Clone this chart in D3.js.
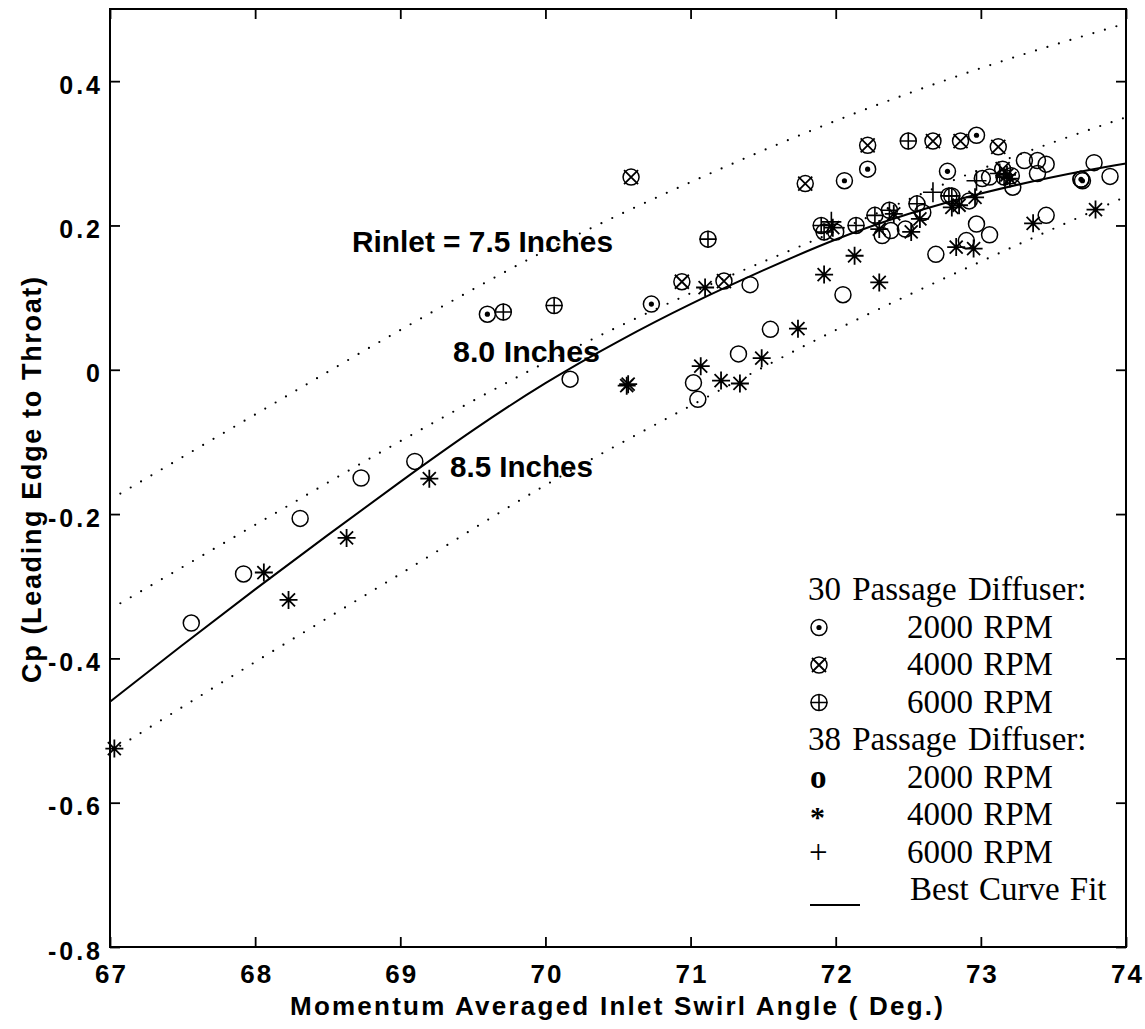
<!DOCTYPE html>
<html><head><meta charset="utf-8">
<script src="https://cdn.jsdelivr.net/npm/d3@7/dist/d3.min.js"></script>
<style>body{margin:0;background:#fff}svg{display:block}</style>
</head><body>
<svg id="chart" width="1145" height="1029"></svg>
<script>
// ---------- data ----------
const xTicks = [67, 68, 69, 70, 71, 72, 73, 74];
const xTickLabels = ["67", "68", "69", "70", "71", "72", "73", "74"];
const yTicks = [-0.8, -0.6, -0.4, -0.2, 0, 0.2, 0.4];
const yTickLabels = ["-0.8", "-0.6", "-0.4", "-0.2", "0", "0.2", "0.4"];

// best curve fit
const fitX = [67, 67.5, 68, 68.5, 69, 69.5, 70, 70.5, 71, 71.5, 72, 72.5, 73, 73.5, 74];
const fitY = [-0.46, -0.381, -0.304, -0.229, -0.155, -0.083, -0.017, 0.040, 0.092, 0.138, 0.182, 0.217, 0.245, 0.268, 0.286];

// Rinlet dotted lines
const rX = [67, 68, 69, 70, 71, 72, 73, 74];
const r75 = [-0.18, -0.062, 0.055, 0.165, 0.26, 0.345, 0.418, 0.48];
const r80 = [-0.332, -0.215, -0.099, 0.01, 0.106, 0.192, 0.278, 0.35];
const r85 = [-0.53, -0.405, -0.283, -0.16, -0.05, 0.055, 0.15, 0.24];

// 30 passage diffuser
const s30_2000 = [[69.60,0.077],[70.73,0.091],[72.06,0.262],[72.22,0.278],[72.97,0.325],[72.77,0.275],[73.69,0.264],[73.70,0.262]];
const s30_4000 = [[70.59,0.267],[70.94,0.122],[71.23,0.123],[71.79,0.258],[72.22,0.311],[72.67,0.317],[72.86,0.317],[73.12,0.309],[73.15,0.278]];
const s30_6000 = [[69.71,0.080],[70.06,0.089],[71.12,0.181],[72.50,0.317],[71.90,0.200],[71.92,0.191],[72.14,0.200],[72.27,0.214],[72.37,0.221],[72.56,0.230],[72.78,0.241],[72.80,0.241],[73.16,0.267]];
// 38 passage diffuser
const s38_2000 = [[67.56,-0.351],[67.92,-0.283],[68.31,-0.206],[68.73,-0.150],[69.10,-0.127],[70.17,-0.013],[71.02,-0.018],[71.05,-0.041],[71.33,0.022],[71.55,0.056],[71.41,0.118],[72.05,0.104],[72.00,0.191],[72.32,0.186],[72.38,0.193],[72.48,0.195],[72.60,0.218],[72.69,0.160],[72.90,0.179],[72.97,0.202],[73.06,0.187],[72.92,0.234],[73.01,0.265],[73.06,0.267],[73.21,0.269],[73.22,0.253],[73.30,0.290],[73.39,0.290],[73.45,0.285],[73.39,0.272],[73.45,0.214],[73.78,0.287],[73.89,0.268],[73.69,0.264]];
const s38_4000 = [[67.03,-0.525],[68.06,-0.281],[68.23,-0.319],[68.63,-0.233],[69.20,-0.151],[70.56,-0.022],[70.57,-0.020],[71.07,0.005],[71.21,-0.015],[71.34,-0.019],[71.49,0.016],[71.74,0.057],[71.10,0.114],[71.92,0.132],[72.13,0.158],[72.30,0.121],[71.98,0.197],[72.30,0.195],[72.40,0.216],[72.52,0.191],[72.58,0.209],[72.80,0.225],[72.85,0.228],[72.96,0.239],[73.20,0.265],[73.18,0.270],[72.83,0.170],[72.95,0.168],[73.36,0.203],[73.79,0.222]];
const s38_6000 = [[72.67,0.246],[72.97,0.262],[73.13,0.272],[71.97,0.205]];

const legendLabels = ["30 Passage Diffuser:", "2000 RPM", "4000 RPM", "6000 RPM", "38 Passage Diffuser:", "2000 RPM", "4000 RPM", "6000 RPM", "Best Curve Fit"];
const annotations = ["Rinlet = 7.5 Inches", "8.0 Inches", "8.5 Inches"];

// ---------- drawing ----------
const svg = d3.select("#chart");
const x = d3.scaleLinear().domain([67, 74]).range([110, 1126]);
const y = d3.scaleLinear().domain([-0.8, 0.5]).range([947, 9]);
const SANS = "'Liberation Sans', Arial, Helvetica, sans-serif";
const SERIF = "'Liberation Serif', 'Times New Roman', serif";

svg.append("rect").attr("width", 1145).attr("height", 1029).attr("fill", "#fff");

svg.append("clipPath").attr("id", "clip").append("rect")
  .attr("x", x(67)).attr("y", y(0.5)).attr("width", x(74) - x(67)).attr("height", y(-0.8) - y(0.5));

const dotLine = d3.line().x(d => x(d[0])).y(d => y(d[1])).curve(d3.curveMonotoneX);
const fitLine = d3.line().x(d => x(d[0])).y(d => y(d[1])).curve(d3.curveBasis);

const plot = svg.append("g").attr("clip-path", "url(#clip)");
[r75, r80, r85].forEach(arr => {
  plot.append("path").datum(rX.map((v, i) => [v, arr[i]]))
    .attr("d", dotLine).attr("fill", "none").attr("stroke", "#000")
    .attr("stroke-width", 2.2).attr("stroke-linecap", "round")
    .attr("stroke-dasharray", "0 12");
});
plot.append("path").datum(fitX.map((v, i) => [v, fitY[i]]))
  .attr("d", fitLine).attr("fill", "none").attr("stroke", "#000").attr("stroke-width", 2);

function marker(g, type) {
  const st = s => s.attr("fill", "none").attr("stroke", "#000");
  if (["odot", "otimes", "oplus", "o"].includes(type))
    st(g.append("circle").attr("r", 8)).attr("stroke-width", 1.5);
  if (type === "odot") g.append("circle").attr("r", 2.6).attr("fill", "#000");
  if (type === "otimes") st(g.append("path").attr("d", "M-7,-7L7,7M-7,7L7,-7")).attr("stroke-width", 1.8);
  if (type === "oplus") st(g.append("path").attr("d", "M-8.5,0H8.5M0,-8.5V8.5")).attr("stroke-width", 1.6);
  if (type === "star") st(g.append("path").attr("d", "M-9,0H9M0,-9V9M-6.5,-6.5L6.5,6.5M-6.5,6.5L6.5,-6.5")).attr("stroke-width", 1.8);
  if (type === "plus") st(g.append("path").attr("d", "M-10,0H10M0,-10V10")).attr("stroke-width", 1.6);
}

const series = [
  [s30_2000, "odot"], [s30_4000, "otimes"], [s30_6000, "oplus"],
  [s38_2000, "o"], [s38_4000, "star"], [s38_6000, "plus"]
];
series.forEach(([data, type]) => {
  svg.append("g").selectAll("g").data(data).join("g")
    .attr("transform", d => `translate(${x(d[0])},${y(d[1])})`)
    .each(function () { marker(d3.select(this), type); });
});

// axes (inward ticks on all four sides)
function styleAxis(g) {
  g.select(".domain").remove();
  g.selectAll(".tick line").attr("stroke", "#000").attr("stroke-width", 1.8);
}
const axB = svg.append("g").attr("transform", `translate(0,${y(-0.8)})`)
  .call(d3.axisBottom(x).tickValues(xTicks).tickSize(-10).tickFormat((d, i) => xTickLabels[i]));
styleAxis(axB);
axB.selectAll("text").attr("y", 36).attr("dy", null).attr("x", 1)
  .attr("font-family", SANS).attr("font-weight", "bold").attr("font-size", 26)
  .attr("letter-spacing", 2).attr("fill", "#000");

const axT = svg.append("g").attr("transform", `translate(0,${y(0.5)})`)
  .call(d3.axisTop(x).tickValues(xTicks).tickSize(-10).tickFormat(""));
styleAxis(axT);

const axL = svg.append("g").attr("transform", `translate(${x(67)},0)`)
  .call(d3.axisLeft(y).tickValues(yTicks).tickSize(-10).tickFormat((d, i) => yTickLabels[i]));
styleAxis(axL);
axL.selectAll("text").attr("x", -7).attr("dy", 12)
  .attr("font-family", SANS).attr("font-weight", "bold").attr("font-size", 25)
  .attr("letter-spacing", 3).attr("fill", "#000");

const axR = svg.append("g").attr("transform", `translate(${x(74)},0)`)
  .call(d3.axisRight(y).tickValues(yTicks).tickSize(-10).tickFormat(""));
styleAxis(axR);

// frame
svg.append("rect").attr("x", x(67)).attr("y", y(0.5))
  .attr("width", x(74) - x(67)).attr("height", y(-0.8) - y(0.5))
  .attr("fill", "none").attr("stroke", "#000").attr("stroke-width", 2);

// axis titles
svg.append("text").attr("x", 290).attr("y", 1015)
  .attr("textLength", 653).attr("lengthAdjust", "spacing")
  .attr("font-family", SANS).attr("font-weight", "bold").attr("font-size", 26)
  .text("Momentum Averaged Inlet Swirl Angle ( Deg.)");
svg.append("text").attr("transform", "translate(41,683) rotate(-90)")
  .attr("textLength", 406).attr("lengthAdjust", "spacing")
  .attr("font-family", SANS).attr("font-weight", "bold").attr("font-size", 27)
  .text("Cp (Leading Edge to Throat)");

// annotations
const annPx = [[352, 252, 261], [453, 362, 147], [450, 477, 143]];
annotations.forEach((t, i) => {
  svg.append("text").attr("x", annPx[i][0]).attr("y", annPx[i][1])
    .attr("textLength", annPx[i][2]).attr("lengthAdjust", "spacingAndGlyphs")
    .attr("font-family", SANS).attr("font-weight", "bold").attr("font-size", 30)
    .text(t);
});

// legend
const lg = svg.append("g");
const rowY = i => 600 + 37.5 * i;
legendLabels.forEach((t, i) => {
  const header = (i === 0 || i === 4);
  lg.append("text").attr("x", header ? 808 : (i === 8 ? 910 : 907)).attr("y", rowY(i))
    .attr("font-family", SERIF).attr("font-size", 33).attr("fill", "#000")
    .attr("word-spacing", header ? 3 : 2).text(t);
});
[[1, "odot"], [2, "otimes"], [3, "oplus"]].forEach(([i, type]) => {
  const g = lg.append("g").attr("transform", `translate(819,${rowY(i) - 10})`);
  marker(g, type);
});
lg.append("text").attr("x", 810).attr("y", rowY(5)).attr("font-family", SERIF)
  .attr("font-weight", "bold").attr("font-size", 33).text("o");
lg.append("text").attr("x", 810).attr("y", rowY(6) + 2).attr("font-family", SERIF)
  .attr("font-weight", "bold").attr("font-size", 30).text("*");
lg.append("text").attr("x", 809).attr("y", rowY(7)).attr("font-family", SERIF)
  .attr("font-size", 33).text("+");
lg.append("line").attr("x1", 810).attr("x2", 860).attr("y1", 905).attr("y2", 905)
  .attr("stroke", "#000").attr("stroke-width", 2);
</script>
</body></html>
